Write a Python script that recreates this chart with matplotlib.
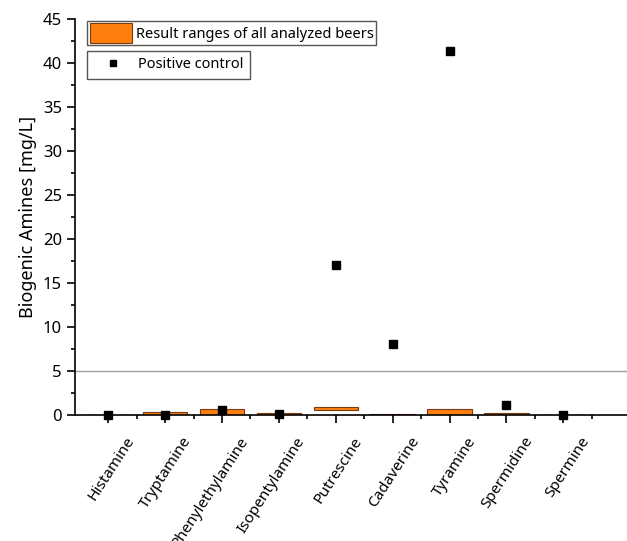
import matplotlib
matplotlib.use("Agg")
import matplotlib.pyplot as plt
import matplotlib.transforms as mtransforms
from matplotlib.ticker import MultipleLocator, FixedLocator

plt.rcParams["font.family"] = ["Noto Sans", "DejaVu Sans"]

# biogenic amines, min/max over all analyzed beers (mg/L) and positive control
AMINES = ["Histamine", "Tryptamine", "Phenylethylamine", "Isopentylamine",
          "Putrescine", "Cadaverine", "Tyramine", "Spermidine", "Spermine"]
RANGE_LOW = [0.0, 0.05, 0.05, 0.0, 0.55, 0.04, 0.0, 0.0, 0.0]
RANGE_HIGH = [0.0, 0.38, 0.72, 0.2, 0.95, 0.12, 0.65, 0.2, 0.0]
POSITIVE_CONTROL = [0.0, 0.05, 0.55, 0.15, 17.0, 8.05, 41.3, 1.15, 0.0]
LIMIT = 5

ORANGE = "#FF7F0E"
EDGE = "#7A3A10"

fig = plt.figure(figsize=(6.27, 5.41), dpi=100)
ax = fig.add_axes([0.12, 0.233, 0.88, 0.732])

x = list(range(1, len(AMINES) + 1))
heights = [h - l for l, h in zip(RANGE_LOW, RANGE_HIGH)]
bars = ax.bar(x, heights, 0.78, bottom=RANGE_LOW, color=ORANGE,
              edgecolor=EDGE, linewidth=0.8, zorder=2)
pts, = ax.plot(x, POSITIVE_CONTROL, "s", color="black", ms=6,
               clip_on=False, zorder=4)
ax.axhline(LIMIT, color="#A0A0A0", lw=1, zorder=1)

ax.set_xlim(0.42, 10.12)
ax.set_ylim(0, 45)
ax.spines[["top", "right"]].set_visible(False)
ax.spines["left"].set_linewidth(1.2)
ax.spines["bottom"].set_linewidth(1.2)

ax.yaxis.set_major_locator(MultipleLocator(5))
ax.yaxis.set_minor_locator(MultipleLocator(2.5))
ax.xaxis.set_major_locator(FixedLocator(x))
ax.xaxis.set_minor_locator(FixedLocator([i + 0.5 for i in x]))
ax.tick_params(axis="both", which="major", direction="out", length=6,
               width=1.2, labelsize=12)
ax.tick_params(axis="both", which="minor", direction="out", length=3,
               width=1.2)
ax.set_xticklabels(AMINES, rotation=57, ha="right", rotation_mode="anchor",
                   fontsize=11)
# nudge rotated labels so their end sits just right of and below the tick
shift = mtransforms.ScaledTranslation(17 / 100, -6 / 100, fig.dpi_scale_trans)
for lab in ax.get_xticklabels():
    lab.set_transform(lab.get_transform() + shift)
ax.set_ylabel("Biogenic Amines [mg/L]", fontsize=13)

leg1 = ax.legend([bars], ["Result ranges of all analyzed beers"],
                 loc="upper left", bbox_to_anchor=(0.022, 0.995),
                 fancybox=False, edgecolor="#555555", framealpha=1,
                 fontsize=10.5, handlelength=2.9, handleheight=1.7,
                 borderpad=0.15, handletextpad=0.3, borderaxespad=0)
ax.add_artist(leg1)
ax.legend([pts], ["Positive control"], loc="upper left",
          bbox_to_anchor=(0.022, 0.92), fancybox=False,
          edgecolor="#555555", framealpha=1, fontsize=10.5,
          handlelength=2.6, borderpad=0.45, handletextpad=0.4,
          borderaxespad=0, markerscale=0.8)

fig.savefig("out.png", dpi=100)
